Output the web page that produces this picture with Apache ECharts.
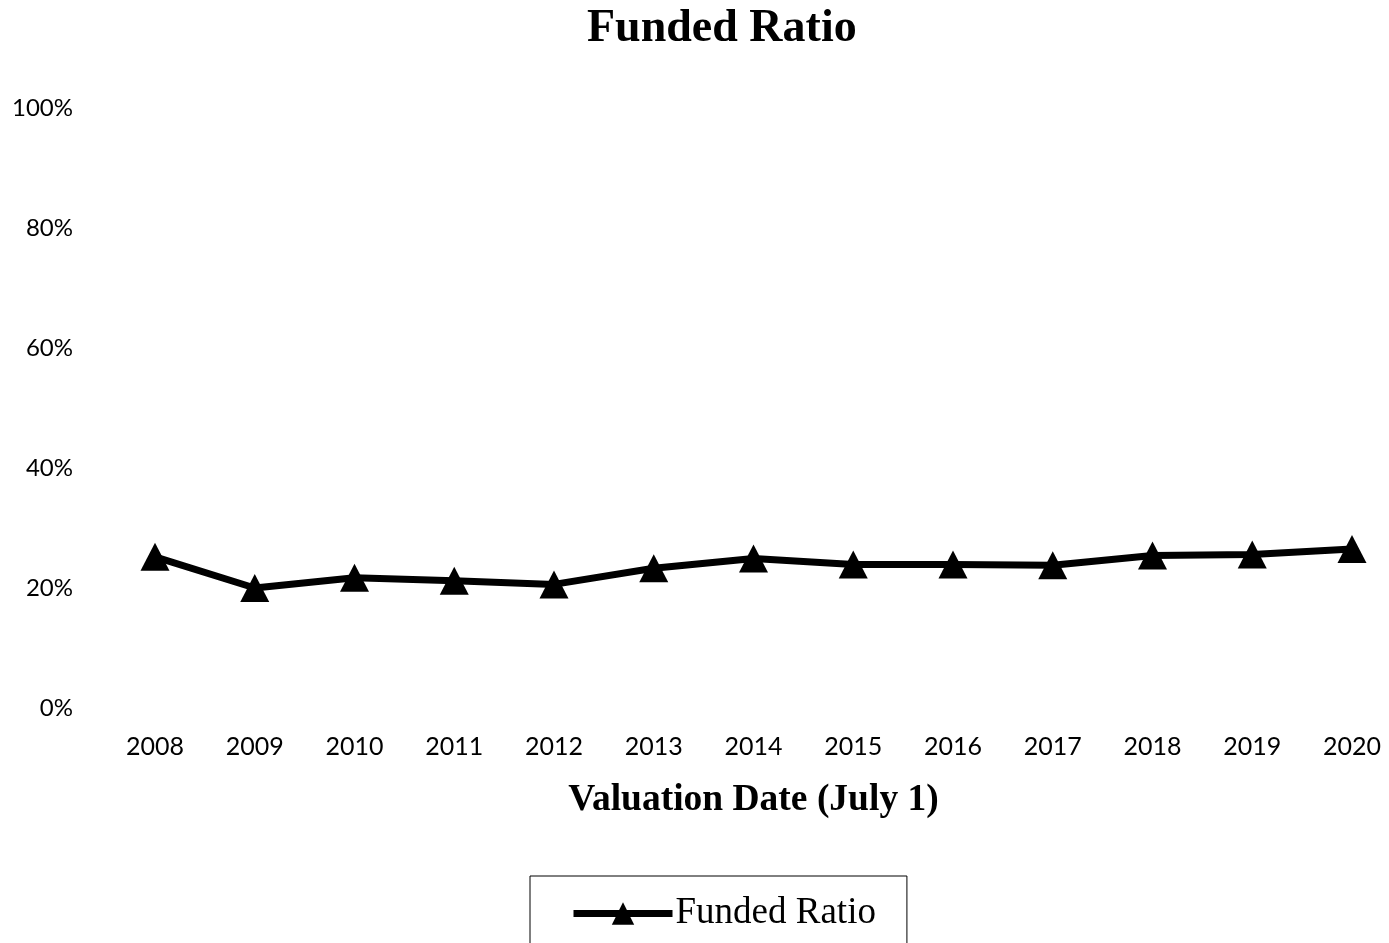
<!DOCTYPE html>
<html>
<head>
<meta charset="utf-8">
<script src="https://cdn.jsdelivr.net/npm/echarts@6/dist/echarts.min.js"></script>
<style>
  html, body { margin: 0; padding: 0; background: #fff; }
  #chart { width: 1389px; height: 943px; }
</style>
</head>
<body>
<div id="chart"></div>
<script>
// Valuation years (July 1) and the plan's funded ratio in percent
const years = ['2008', '2009', '2010', '2011', '2012', '2013', '2014',
               '2015', '2016', '2017', '2018', '2019', '2020'];
const fundedRatio = [25.2, 20.0, 21.7, 21.2, 20.6, 23.3, 24.9,
                     23.9, 23.9, 23.8, 25.4, 25.6, 26.5];
const yTicks = [0, 20, 40, 60, 80, 100];

const chart = echarts.init(document.getElementById('chart'), null, { renderer: 'canvas' });

chart.setOption({
  backgroundColor: '#ffffff',
  animation: false,
  title: {
    text: 'Funded Ratio',
    left: 582,
    top: 1,
    textStyle: {
      fontFamily: 'Liberation Serif',
      fontWeight: 'bold',
      fontSize: 46,
      color: '#000'
    }
  },
  legend: {
    data: ['Funded Ratio'],
    left: 530,
    top: 876,
    borderColor: '#000',
    borderWidth: 1,
    padding: [19, 31, 40, 40],
    itemWidth: 99,
    itemHeight: 28,
    itemGap: 0,
    lineStyle: { width: 7 },
    textStyle: {
      fontFamily: 'Liberation Serif',
      fontSize: 37,
      color: '#000',
      padding: [0, 0, 0, -2]
    }
  },
  grid: {
    left: 155,
    right: 37,
    top: 108,
    bottom: 235,
    containLabel: false
  },
  xAxis: {
    type: 'category',
    data: years,
    boundaryGap: false,
    name: 'Valuation Date (July 1)',
    nameLocation: 'middle',
    nameGap: 73,
    nameTextStyle: {
      fontFamily: 'Liberation Serif',
      fontWeight: 'bold',
      fontSize: 37.5,
      color: '#000'
    },
    axisLine: { show: false },
    axisTick: { show: false },
    splitLine: { show: false },
    axisLabel: {
      margin: 26,
      fontFamily: 'Lato',
      fontSize: 25,
      color: '#000'
    }
  },
  yAxis: {
    type: 'value',
    min: yTicks[0],
    max: yTicks[yTicks.length - 1],
    interval: 20,
    axisLine: { show: false },
    axisTick: { show: false },
    splitLine: { show: false },
    axisLabel: {
      margin: 82,
      fontFamily: 'Lato',
      fontSize: 24,
      color: '#000',
      formatter: v => v + '%'
    }
  },
  series: [{
    name: 'Funded Ratio',
    type: 'line',
    data: fundedRatio,
    symbol: 'triangle',
    symbolSize: [29, 28],
    showAllSymbol: true,
    lineStyle: { color: '#000', width: 7 },
    itemStyle: { color: '#000', borderWidth: 0 },
    z: 3
  }]
});
</script>
</body>
</html>
